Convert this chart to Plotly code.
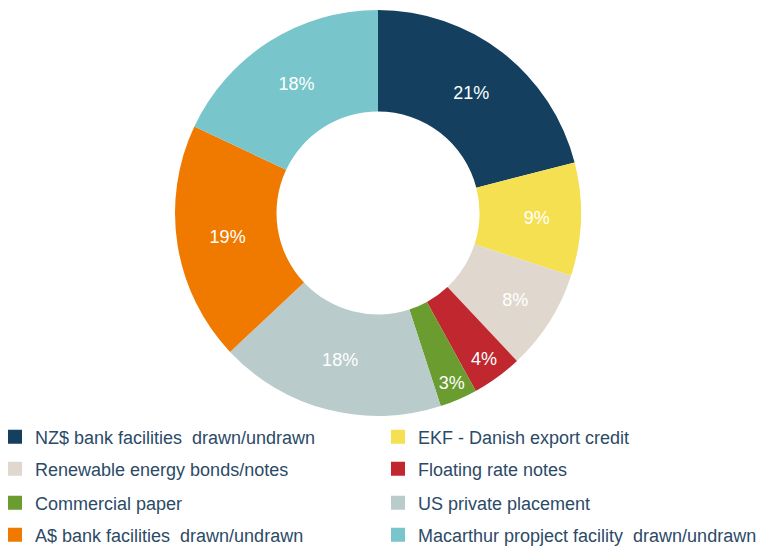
import plotly.graph_objects as go

labels = [
    "NZ$ bank facilities  drawn/undrawn",
    "EKF - Danish export credit",
    "Renewable energy bonds/notes",
    "Floating rate notes",
    "Commercial paper",
    "US private placement",
    "A$ bank facilities  drawn/undrawn",
    "Macarthur propject facility  drawn/undrawn",
]
values = [21, 9, 8, 4, 3, 18, 19, 18]
colors = ["#143f5f", "#f5e052", "#e0d7ce", "#c1272f", "#6a9c30", "#b9cbcb", "#f07a00", "#78c6cb"]

W, H = 769, 546
cx, cy, r = 370, 205, 203
FONT = "Liberation Sans Narrow, Arial Narrow, Liberation Sans, Arial, sans-serif"

fig = go.Figure()
fig.add_trace(go.Pie(
    labels=labels,
    values=values,
    sort=False,
    direction="clockwise",
    rotation=0,
    hole=0.5,
    showlegend=False,
    marker=dict(colors=colors, line=dict(width=0)),
    texttemplate="%{value}%",
    textposition="inside",
    insidetextorientation="horizontal",
    textfont=dict(color="white", size=18, family=FONT),
    domain=dict(x=[(cx - r) / W, (cx + r) / W], y=[(H - cy - r) / H, (H - cy + r) / H]),
))

# legend: two columns, four rows (row-wise order)
col_x = [-13, 370]
row_y = [429, 461, 495, 527]
layout_legends = {}
for i, (lab, col) in enumerate(zip(labels, colors)):
    name = "legend" if i == 0 else f"legend{i + 1}"
    fig.add_trace(go.Scatter(
        x=[None], y=[None], mode="markers", name=lab,
        marker=dict(symbol="square", size=14, color=col),
        legend=name, showlegend=True, hoverinfo="skip",
    ))
    layout_legends[name] = dict(
        x=col_x[i % 2] / W, xanchor="left",
        y=(H - row_y[i // 2]) / H, yanchor="middle",
        bgcolor="rgba(0,0,0,0)",
        font=dict(size=18, color="#2b4a67", family=FONT),
        itemwidth=30,
    )

fig.update_layout(
    width=W, height=H,
    margin=dict(l=0, r=0, t=0, b=0, autoexpand=False),
    paper_bgcolor="white",
    plot_bgcolor="white",
    xaxis=dict(visible=False),
    yaxis=dict(visible=False),
    uniformtext=dict(minsize=18, mode="show"),
    **layout_legends,
)

fig.write_html("out.html")
